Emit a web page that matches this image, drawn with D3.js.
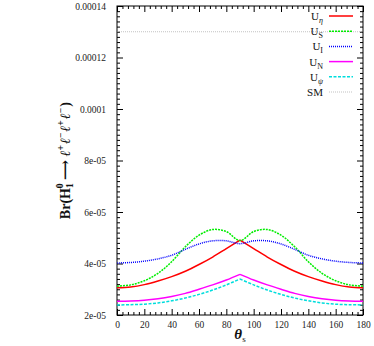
<!DOCTYPE html>
<html>
<head>
<meta charset="utf-8">
<script src="https://cdn.jsdelivr.net/npm/d3@7"></script>
<style>
  body { margin: 0; background: #fff; }
  svg text { font-family: "Liberation Serif", "DejaVu Serif", serif !important; }
</style>
</head>
<body>
<div id="chart"></div>
<script>
// theta_s in degrees
let thetas = [0, 10, 20, 30, 40, 50, 60, 70, 80, 90, 100, 110, 120, 130, 140, 150, 160, 170, 180];

// branching ratios
let uEta = [3.06e-5, 3.09e-5, 3.18e-5, 3.32e-5, 3.49e-5, 3.70e-5, 3.96e-5, 4.25e-5, 4.58e-5, 4.91e-5,
            4.58e-5, 4.25e-5, 3.96e-5, 3.70e-5, 3.49e-5, 3.32e-5, 3.18e-5, 3.09e-5, 3.06e-5];
let uS = [3.12e-5, 3.17e-5, 3.33e-5, 3.62e-5, 4.07e-5, 4.65e-5, 5.10e-5, 5.32e-5, 5.24e-5, 4.89e-5,
          5.24e-5, 5.32e-5, 5.10e-5, 4.65e-5, 4.07e-5, 3.62e-5, 3.33e-5, 3.17e-5, 3.12e-5];
let uI = [4.02e-5, 4.04e-5, 4.09e-5, 4.18e-5, 4.32e-5, 4.55e-5, 4.76e-5, 4.88e-5, 4.88e-5, 4.77e-5,
          4.88e-5, 4.88e-5, 4.76e-5, 4.55e-5, 4.32e-5, 4.18e-5, 4.09e-5, 4.04e-5, 4.02e-5];
let uN = [2.53e-5, 2.54e-5, 2.57e-5, 2.63e-5, 2.72e-5, 2.84e-5, 3.00e-5, 3.17e-5, 3.36e-5, 3.58e-5,
          3.36e-5, 3.17e-5, 3.00e-5, 2.84e-5, 2.72e-5, 2.63e-5, 2.57e-5, 2.54e-5, 2.53e-5];
let uPsi = [2.39e-5, 2.40e-5, 2.42e-5, 2.47e-5, 2.55e-5, 2.66e-5, 2.80e-5, 2.97e-5, 3.17e-5, 3.40e-5,
            3.17e-5, 2.97e-5, 2.80e-5, 2.66e-5, 2.55e-5, 2.47e-5, 2.42e-5, 2.40e-5, 2.39e-5];
let smBr = 1.3e-4;

let xTicks = [0, 20, 40, 60, 80, 100, 120, 140, 160, 180];
let yTicks = [2e-5, 4e-5, 6e-5, 8e-5, 1e-4, 1.2e-4, 1.4e-4];
let yTickLabels = ["2e-05", "4e-05", "6e-05", "8e-05", "0.0001", "0.00012", "0.00014"];

let svgWidth = 374;
let svgHeight = 346;
let chartMargin = { top: 6, right: 11, bottom: 31, left: 117 };
let chartWidth = svgWidth - chartMargin.left - chartMargin.right;
let chartHeight = svgHeight - chartMargin.top - chartMargin.bottom;

let svg = d3.select("#chart").append("svg")
    .attr("width", svgWidth)
    .attr("height", svgHeight);

let chartGroup = svg.append("g")
    .attr("transform", `translate(${chartMargin.left}, ${chartMargin.top})`);

let xScale = d3.scaleLinear().domain([0, 180]).range([0, chartWidth]);
let yScale = d3.scaleLinear().domain([2e-5, 1.4e-4]).range([chartHeight, 0]);

// minor ticks
let xMinor = d3.range(0, 181, 4).filter(v => v % 20 !== 0);
let yMinor = d3.range(0, 61).map(i => 2e-5 + i * 2e-6).filter((v, i) => i % 10 !== 0);

function styleAxis(g) {
    g.attr("font-family", null);
    g.select(".domain").remove();
    g.selectAll("line").attr("stroke", "#000").attr("stroke-width", 1);
    g.selectAll("text").attr("fill", "#222").style("font-size", "9.5px");
}

chartGroup.append("g")
    .attr("transform", `translate(0, ${chartHeight})`)
    .call(d3.axisBottom(xScale).tickValues(xTicks).tickSize(-6).tickPadding(6).tickFormat(d3.format("d")))
    .call(styleAxis);
chartGroup.append("g")
    .attr("transform", `translate(0, ${chartHeight})`)
    .call(d3.axisBottom(xScale).tickValues(xMinor).tickSize(-3).tickFormat(""))
    .call(styleAxis);
chartGroup.append("g")
    .call(d3.axisTop(xScale).tickValues(xTicks).tickSize(-6).tickFormat(""))
    .call(styleAxis);
chartGroup.append("g")
    .call(d3.axisTop(xScale).tickValues(xMinor).tickSize(-3).tickFormat(""))
    .call(styleAxis);

chartGroup.append("g")
    .call(d3.axisLeft(yScale).tickValues(yTicks).tickSize(-6).tickPadding(11)
        .tickFormat((d, i) => yTickLabels[i]))
    .call(styleAxis);
chartGroup.append("g")
    .call(d3.axisLeft(yScale).tickValues(yMinor).tickSize(-3).tickFormat(""))
    .call(styleAxis);
chartGroup.append("g")
    .attr("transform", `translate(${chartWidth}, 0)`)
    .call(d3.axisRight(yScale).tickValues(yTicks).tickSize(-6).tickFormat(""))
    .call(styleAxis);
chartGroup.append("g")
    .attr("transform", `translate(${chartWidth}, 0)`)
    .call(d3.axisRight(yScale).tickValues(yMinor).tickSize(-3).tickFormat(""))
    .call(styleAxis);

chartGroup.append("rect")
    .attr("width", chartWidth)
    .attr("height", chartHeight)
    .attr("fill", "none")
    .attr("stroke", "#000")
    .attr("stroke-width", 1);

let seriesList = [
    { name: "η", values: uEta, color: "#ff0000", dash: null, cusp: true },
    { name: "S", values: uS, color: "#00ee00", dash: "2,1", cusp: false },
    { name: "I", values: uI, color: "#0000ff", dash: "1,1", cusp: false },
    { name: "N", values: uN, color: "#ff00ff", dash: null, cusp: true },
    { name: "ψ", values: uPsi, color: "#00dddd", dash: "3,1.5", cusp: true }
];

let smoothLine = d3.line()
    .x(d => xScale(d[0]))
    .y(d => yScale(d[1]))
    .curve(d3.curveCatmullRom.alpha(0.5));

// SM reference line
chartGroup.append("line")
    .attr("x1", xScale(0)).attr("x2", xScale(180))
    .attr("y1", yScale(smBr)).attr("y2", yScale(smBr))
    .attr("stroke", "#999")
    .attr("stroke-width", 0.6)
    .attr("stroke-dasharray", "1,1");

seriesList.forEach(function(s) {
    let pts = thetas.map((t, i) => [t, s.values[i]]);
    // curves with a kink at 90 are drawn in two halves
    let parts = s.cusp ? [pts.filter(p => p[0] <= 90), pts.filter(p => p[0] >= 90)] : [pts];
    parts.forEach(function(part) {
        chartGroup.append("path")
            .datum(part)
            .attr("d", smoothLine)
            .attr("fill", "none")
            .attr("stroke", s.color)
            .attr("stroke-width", 1.5)
            .attr("stroke-dasharray", s.dash);
    });
});

// legend
let legend = svg.append("g");
let legendItems = seriesList.map(s => ({ sub: s.name, color: s.color, dash: s.dash, width: 1.5 }));
legendItems.push({ sub: null, color: "#999", dash: "1,1", width: 0.6 });

legendItems.forEach(function(item, i) {
    let ly = 16 + i * 15.2;
    legend.append("line")
        .attr("x1", 329).attr("x2", 353)
        .attr("y1", ly).attr("y2", ly)
        .attr("stroke", item.color)
        .attr("stroke-width", item.width)
        .attr("stroke-dasharray", item.dash);
    let t = legend.append("text")
        .attr("x", 323)
        .attr("y", ly + 4)
        .attr("text-anchor", "end")
        .style("font-size", "11px")
        .attr("fill", "#111");
    if (item.sub) {
        t.append("tspan").text("U");
        t.append("tspan")
            .attr("dy", 3)
            .style("font-size", "8px")
            .style("font-style", item.sub === "η" || item.sub === "ψ" ? "italic" : "normal")
            .text(item.sub);
    } else {
        t.text("SM");
    }
});

// x label
let xLabel = svg.append("text")
    .attr("x", chartMargin.left + chartWidth / 2)
    .attr("y", 339)
    .attr("text-anchor", "middle")
    .attr("fill", "#111");
xLabel.append("tspan")
    .style("font-size", "15px")
    .style("font-weight", "bold")
    .style("font-style", "italic")
    .text("θ");
xLabel.append("tspan")
    .attr("dy", 3)
    .style("font-size", "9px")
    .text("s");

// y label, built left to right then centred on the plot
let yLabelG = svg.append("g");
let yLabel = yLabelG.append("text")
    .attr("x", 0)
    .attr("y", 0)
    .attr("fill", "#111")
    .style("font-size", "14px")
    .style("font-weight", "bold");
yLabel.append("tspan").text("Br(H");
yLabel.append("tspan").attr("dy", 3).style("font-size", "9.5px").text("1");
yLabel.append("tspan").attr("dy", -10).attr("dx", -5).style("font-size", "9.5px").text("0");
yLabel.append("tspan").attr("dy", 7).text("\u00A0⟶\u00A0");
["+", "−", "+", "−"].forEach(function(sign, i) {
    yLabel.append("tspan")
        .attr("dx", i === 0 ? 0 : 1)
        .attr("dy", i === 0 ? 0 : 6)
        .style("font-style", "italic")
        .text("ℓ");
    yLabel.append("tspan").attr("dy", -6).style("font-size", "9.5px").text(sign);
});
yLabel.append("tspan").attr("dx", 1).attr("dy", 6).text(")");

let bb = yLabel.node().getBBox();
yLabelG.attr("transform",
    `translate(66, ${chartMargin.top + chartHeight / 2}) rotate(-90) translate(${-bb.x - bb.width / 2}, ${-bb.y - bb.height / 2 - 1})`);
</script>
</body>
</html>
